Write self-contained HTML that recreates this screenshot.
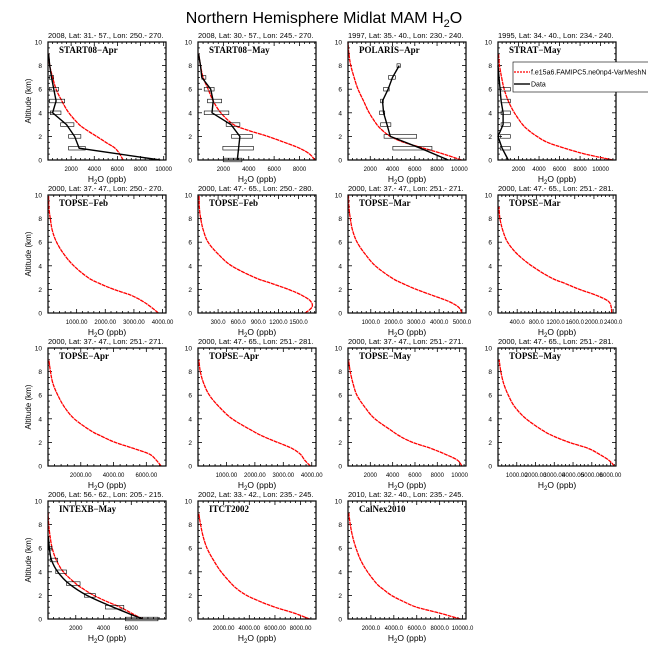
<!DOCTYPE html>
<html><head><meta charset="utf-8"><style>
body{margin:0;background:#fff;width:648px;height:648px;overflow:hidden}
svg{display:block}
text{font-family:"Liberation Sans",sans-serif}
</style></head><body>
<svg id="chart" width="648" height="648" viewBox="0 0 648 648">
<text x="324" y="23" text-anchor="middle" font-size="16">Northern Hemisphere Midlat MAM H<tspan font-size="11" dy="4">2</tspan><tspan dy="-4">O</tspan></text>
</svg>
<script>
const altitudes = [0,0.5,1,1.5,2,2.5,3,4,5,6,7,8,9,10];
const panelTitles = ["2008, Lat:  31.- 57., Lon: 250.- 270.","2008, Lat:  30.- 57., Lon: 245.- 270.","1997, Lat: 35.- 40., Lon: 230.- 240.","1995, Lat: 34.- 40., Lon: 234.- 240.",
"2000, Lat: 37.- 47., Lon: 250.- 270.","2000, Lat: 47.- 65., Lon: 250.- 280.","2000, Lat: 37.- 47., Lon: 251.- 271.","2000, Lat: 47.- 65., Lon: 251.- 281.",
"2000, Lat: 37.- 47., Lon: 251.- 271.","2000, Lat: 47.- 65., Lon: 251.- 281.","2000, Lat: 37.- 47., Lon: 251.- 271.","2000, Lat: 47.- 65., Lon: 251.- 281.",
"2006, Lat: 56.- 62., Lon: 205.- 215.","2002, Lat: 33.- 42., Lon: 235.- 245.","2010, Lat: 32.- 40., Lon: 235.- 245."];
const campaigns = ["START08\u2212Apr","START08\u2212May","POLARIS\u2212Apr","STRAT\u2212May","TOPSE\u2212Feb","TOPSE\u2212Feb","TOPSE\u2212Mar","TOPSE\u2212Mar","TOPSE\u2212Apr","TOPSE\u2212Apr","TOPSE\u2212May","TOPSE\u2212May","INTEXB\u2212May","ITCT2002","CalNex2010"];
const xMax = [10200,9300,10600,11500,4120,1760,5180,2460,7200,4150,10570,6290,8500,9200,10300];
const xTicks = [
[2000,4000,6000,8000,10000],[2000,4000,6000,8000],[2000,4000,6000,8000,10000],[2000,4000,6000,8000,10000],
[1000,2000,3000,4000],[300,600,900,1200,1500],[1000,2000,3000,4000,5000],[400,800,1200,1600,2000,2400],
[2000,4000,6000],[1000,2000,3000,4000],[2000,4000,6000,8000,10000],[1000,2000,3000,4000,5000,6000],
[2000,4000,6000],[2000,4000,6000,8000],[2000,4000,6000,8000,10000]];
const xTickDecimals = [0,0,0,0,2,1,1,1,2,2,0,2,0,2,1];
const model = [
[6500,6200,5800,5000,4200,3400,2700,1800,1200,700,400,150,50,null],
[9200,8800,8000,6800,5500,4000,2800,1800,1200,800,400,200,50,null],
[10200,8600,6800,5000,3800,3100,2600,1900,1400,900,550,250,80,0],
[11200,8500,6500,4800,3800,3000,2400,1600,1000,600,350,150,50,null],
[3850,3600,3300,2900,2300,1800,1400,900,550,300,150,80,30,20],
[1600,1700,1680,1550,1350,1100,850,500,300,150,80,40,20,15],
[5000,4850,4400,3700,3000,2400,1900,1200,750,400,200,100,40,20],
[2370,2360,2300,2050,1700,1400,1100,700,400,200,100,40,20,null],
[6900,6600,6200,5200,4100,3300,2600,1600,1000,600,300,150,50,null],
[3950,3750,3600,3300,2800,2300,1900,1200,750,400,200,80,30,null],
[10200,9800,8700,7400,5800,4700,3900,2400,1500,800,450,200,50,null],
[6200,5900,5400,4800,3800,3000,2400,1500,900,550,300,150,60,null],
[6800,6000,5200,4200,3300,2600,2000,1100,600,300,150,50,10,null],
[8700,7500,6000,4800,3800,3100,2600,1800,1200,700,400,200,50,null],
[9800,8000,6000,4800,3800,3100,2500,1700,1100,700,400,200,60,null]];
const dataAlt = [0,1,2,3,4,5,6,7,8,9];
const obs = {
0:[9700,2700,2300,1600,400,700,500,300,150,50],
1:[3100,3200,3300,2600,1100,1200,1000,300,200,50],
2:[9000,6500,3800,3500,3200,3100,3600,4000,4600,null],
3:[1000,400,0,500,500,300,200,100,0,null],
12:[6800,4700,2800,1500,700,250,100,20,null,null]};
const obsLo = {
0:[null,1780,1780,1090,200,115,115,115,null,null],
1:[1990,1960,2640,2220,490,750,490,300,null,null],
2:[null,4030,3240,2930,2840,2930,3200,3640,4400,null],
3:[null,230,230,300,300,300,230,null,null,null],
12:[5580,4130,2620,1330,560,160,50,null,null,null]};
const obsHi = {
0:[null,3220,2840,2240,1120,1440,920,490,null,null],
1:[3460,4370,4290,3300,2430,1860,1270,620,null,null],
2:[null,7540,6170,3850,3300,3180,3700,4250,4700,null],
3:[null,1200,1200,1200,1200,1200,1200,null,null,null],
12:[7920,5460,3410,2310,1330,700,280,null,null,null]};

const svg=document.getElementById('chart');
const NS='http://www.w3.org/2000/svg';
function mk(tag,attrs,parent){const e=document.createElementNS(NS,tag);for(const k in attrs)e.setAttribute(k,attrs[k]);(parent||svg).appendChild(e);return e;}
const colX=[48,198,348,498], rowY=[42,195,348,501], W=118, H=118;
function smoothPath(pts){let d='M'+pts[0][0].toFixed(1)+','+pts[0][1].toFixed(1);
 for(let i=0;i<pts.length-1;i++){const p0=pts[Math.max(i-1,0)],p1=pts[i],p2=pts[i+1],p3=pts[Math.min(i+2,pts.length-1)];
  const c1=[p1[0]+(p2[0]-p0[0])/6,p1[1]+(p2[1]-p0[1])/6],c2=[p2[0]-(p3[0]-p1[0])/6,p2[1]-(p3[1]-p1[1])/6];
  d+=' C'+c1[0].toFixed(1)+','+c1[1].toFixed(1)+' '+c2[0].toFixed(1)+','+c2[1].toFixed(1)+' '+p2[0].toFixed(1)+','+p2[1].toFixed(1);}
 return d;}
for(let p=0;p<15;p++){
 const L=colX[p%4], T=rowY[Math.floor(p/4)];
 const g=mk('g',{});
 
 
 const sx=v=>L+v/xMax[p]*W, sy=a=>T+H-a/10*H;
 const ttl=mk('text',{x:L,y:T-4,'font-size':7.5},g);ttl.textContent=panelTitles[p];
 
 
 const cl=mk('text',{x:L+11,y:T+11,'font-size':9,'font-weight':'bold',style:'font-family:"Liberation Serif",serif'},g);cl.textContent=campaigns[p];
 
 
 for(let a=0;a<=10;a+=0.5){const y=sy(a),len=(a%2===0)?4:2;
  mk('line',{x1:L,y1:y,x2:L+len,y2:y,stroke:'#000','stroke-width':0.8},g);
  mk('line',{x1:L+W,y1:y,x2:L+W-len,y2:y,stroke:'#000','stroke-width':0.8},g);
  if(a%2===0){const t=mk('text',{x:L-6,y:y+2.5,'font-size':6.5,'text-anchor':'end'},g);t.textContent=a;
   
   }}
 const step=xTicks[p][1]-xTicks[p][0];
 for(let v=step/5;v<xMax[p];v+=step/5){const x=sx(v);const major=xTicks[p].some(t=>Math.abs(t-v)<step/50);const len=major?4:2;
  mk('line',{x1:x,y1:T+H,x2:x,y2:T+H-len,stroke:'#000','stroke-width':0.8},g);
  mk('line',{x1:x,y1:T,x2:x,y2:T+len,stroke:'#000','stroke-width':0.8},g);}
 xTicks[p].forEach(v=>{const t=mk('text',{x:sx(v),y:T+H+11,'font-size':6,'text-anchor':'middle'},g);t.textContent=v.toFixed(xTickDecimals[p]);
  
  });
 const xl=mk('text',{x:L+W/2,y:T+H+22,'font-size':8.5,'text-anchor':'middle'},g);
 xl.innerHTML='H<tspan font-size="6" dy="2">2</tspan><tspan dy="-2">O (ppb)</tspan>';
 
 
 if(p%4===0){const yl=mk('text',{x:0,y:0,'font-size':8,'text-anchor':'middle',transform:`translate(${L-17},${T+H/2}) rotate(-90)`},g);yl.textContent='Altitude (km)';
  
  }
 const pts=[];altitudes.forEach((a,i)=>{if(model[p][i]!==null)pts.push([sx(model[p][i]),sy(a)]);});
 const ml=mk('path',{d:smoothPath(pts),fill:'none',stroke:'#f00','stroke-width':1.3,'stroke-dasharray':'4 0.6'},g);
 
 
 if(obs[p]){
  dataAlt.forEach((a,i)=>{if(obsLo[p][i]!==null){const b=mk('rect',{x:sx(obsLo[p][i]),y:sy(a)-1.8,width:sx(obsHi[p][i])-sx(obsLo[p][i]),height:3.6,fill:'none',stroke:'#000','stroke-width':0.6},g);
   
   }});
  const op=[];dataAlt.forEach((a,i)=>{if(obs[p][i]!==null)op.push([sx(obs[p][i]),sy(a)]);});
  const dl=mk('path',{d:(p===12?smoothPath(op):'M'+op.map(q=>q[0].toFixed(1)+','+q[1].toFixed(1)).join(' L')),fill:'none',stroke:'#000','stroke-width':1.4},g);
  
  }
 const fr=mk('rect',{x:L,y:T,width:W,height:H,fill:'none',stroke:'#000','stroke-width':1.2},g);
 
 
}
const lg=mk('g',{});


mk('rect',{x:513,y:62,width:145,height:30,fill:'#fff',stroke:'#000','stroke-width':0.6},lg);
mk('line',{x1:514,y1:72,x2:530,y2:72,stroke:'#f00','stroke-width':1.3,'stroke-dasharray':'2 1'},lg);
mk('line',{x1:514,y1:84,x2:530,y2:84,stroke:'#000','stroke-width':1.4},lg);
const l1=mk('text',{x:531,y:74.5,'font-size':7},lg);l1.textContent='f.e15a6.FAMIPC5.ne0np4-VarMeshN';


const l2=mk('text',{x:531,y:86.5,'font-size':7},lg);l2.textContent='Data';


</script>
</body></html>
